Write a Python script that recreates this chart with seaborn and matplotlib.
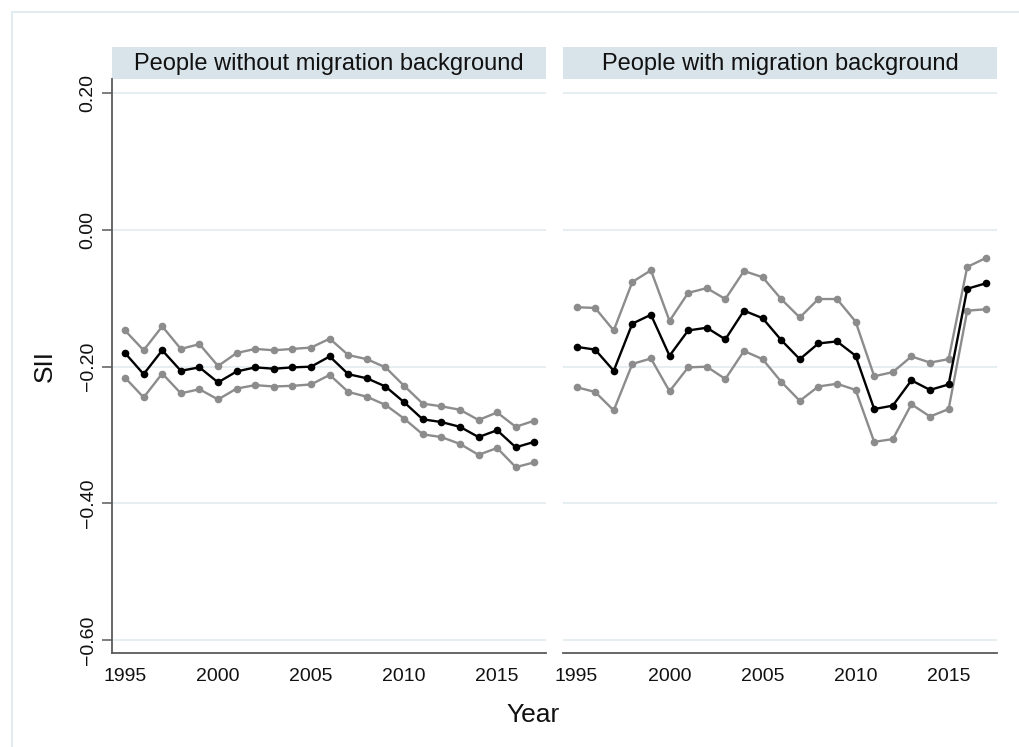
import matplotlib
matplotlib.use("Agg")
import matplotlib.pyplot as plt
from matplotlib.patches import Rectangle
import numpy as np
import pandas as pd
import seaborn as sns

# Survey years
years = list(range(1995, 2018))

# Slope index of inequality (SII) with 95% confidence bounds
no_mig_est = [-0.180, -0.211, -0.176, -0.206, -0.201, -0.223, -0.207, -0.201, -0.203, -0.201,
              -0.200, -0.185, -0.211, -0.217, -0.229, -0.252, -0.277, -0.281, -0.288, -0.303,
              -0.293, -0.318, -0.310]
no_mig_upper = [-0.147, -0.176, -0.141, -0.174, -0.167, -0.199, -0.180, -0.174, -0.176, -0.174,
                -0.172, -0.159, -0.183, -0.189, -0.201, -0.228, -0.254, -0.258, -0.263, -0.278,
                -0.267, -0.288, -0.279]
no_mig_lower = [-0.216, -0.245, -0.210, -0.239, -0.233, -0.248, -0.232, -0.227, -0.229, -0.228,
                -0.226, -0.212, -0.237, -0.244, -0.256, -0.276, -0.299, -0.303, -0.313, -0.329,
                -0.319, -0.347, -0.340]

mig_est = [-0.171, -0.175, -0.206, -0.137, -0.124, -0.184, -0.147, -0.143, -0.160, -0.118,
           -0.129, -0.161, -0.189, -0.166, -0.163, -0.184, -0.262, -0.257, -0.220, -0.234,
           -0.226, -0.086, -0.078]
mig_upper = [-0.113, -0.114, -0.147, -0.076, -0.059, -0.133, -0.092, -0.085, -0.101, -0.060,
             -0.069, -0.101, -0.128, -0.101, -0.101, -0.134, -0.214, -0.208, -0.185, -0.194,
             -0.189, -0.054, -0.041]
mig_lower = [-0.230, -0.237, -0.264, -0.196, -0.188, -0.236, -0.201, -0.200, -0.218, -0.177,
             -0.189, -0.222, -0.250, -0.229, -0.225, -0.234, -0.310, -0.306, -0.255, -0.273,
             -0.262, -0.118, -0.116]

groups = ["People without migration background", "People with migration background"]
y_ticks = [0.20, 0.00, -0.20, -0.40, -0.60]
x_ticks = [1995, 2000, 2005, 2010, 2015]

series = {
    groups[0]: {"upper": no_mig_upper, "lower": no_mig_lower, "estimate": no_mig_est},
    groups[1]: {"upper": mig_upper, "lower": mig_lower, "estimate": mig_est},
}
rows = []
for g, bands in series.items():
    for band, vals in bands.items():
        for yr, v in zip(years, vals):
            rows.append({"group": g, "band": band, "year": yr, "SII": v})
df = pd.DataFrame(rows)

sns.set_theme(style="white")
plt.rcParams["font.family"] = ["Liberation Sans", "DejaVu Sans"]

W, H = 1019, 747
fig, axes = plt.subplots(1, 2, figsize=(W / 100, H / 100), dpi=100, sharey=True)
fig.subplots_adjust(left=112 / W, right=997 / W, top=1 - 79 / H, bottom=1 - 653 / H,
                    wspace=0.0415)

palette = {"upper": "#8c8c8c", "lower": "#8c8c8c", "estimate": "#000000"}
grid_col = "#e4edf1"
spine_col = "#5a5a5a"
strip_col = "#d8e3ea"

for ax, g in zip(axes, groups):
    sub = df[df["group"] == g]
    for y in y_ticks:
        ax.axhline(y, color=grid_col, lw=1.3, zorder=0)
    sns.lineplot(data=sub, x="year", y="SII", hue="band",
                 hue_order=["upper", "lower", "estimate"], palette=palette,
                 marker="o", markersize=5.5, markeredgewidth=0, linewidth=1.7,
                 legend=False, ax=ax, zorder=3)
    ax.set_xlim(1994.3, 2017.6)
    ax.set_ylim(-0.619, 0.221)
    ax.set_xticks(x_ticks)
    ax.set_xticklabels([str(t) for t in x_ticks], fontsize=14)
    ax.set_xlabel("")
    ax.set_ylabel("")
    for side in ["top", "right", "left"]:
        ax.spines[side].set_visible(False)
    ax.spines["bottom"].set_color(spine_col)
    ax.spines["bottom"].set_linewidth(1.3)
    ax.tick_params(axis="x", direction="out", length=7, width=1.1, color=spine_col,
                   pad=4, labelcolor="#111111")
    # strip header above the panel
    ax.add_patch(Rectangle((0, 1.0), 1, 32 / 574, transform=ax.transAxes,
                           facecolor=strip_col, edgecolor="none", clip_on=False))
    ax.text(0.5, 1.0 + 15 / 574, g, transform=ax.transAxes, ha="center", va="center",
            fontsize=17, color="#111111")

axes[0].spines["left"].set_visible(True)
axes[0].spines["left"].set_color(spine_col)
axes[0].spines["left"].set_linewidth(1.3)
axes[0].set_yticks(y_ticks)
axes[0].set_yticklabels(["0.20", "0.00", "\u22120.20", "\u22120.40", "\u22120.60"],
                        rotation=90, va="center", fontsize=14)
axes[0].tick_params(axis="y", direction="out", length=7, width=1.1, color=spine_col,
                    pad=4, labelcolor="#111111", left=True)
axes[1].tick_params(axis="y", left=False, labelleft=False)

fig.text(533 / W, 1 - 715 / H, "Year", ha="center", va="center", fontsize=19, color="#111111")
fig.text(45 / W, 1 - 366 / H, "SII", ha="center", va="center", rotation=90,
         fontsize=19, color="#111111")

# outer frame
fig.patches.append(Rectangle((12 / W, -0.05), 1.1, 1 - 12 / H + 0.05,
                             transform=fig.transFigure, facecolor="none",
                             edgecolor="#e4ebf0", lw=1.5, zorder=0))

fig.savefig("out.png", dpi=100)
